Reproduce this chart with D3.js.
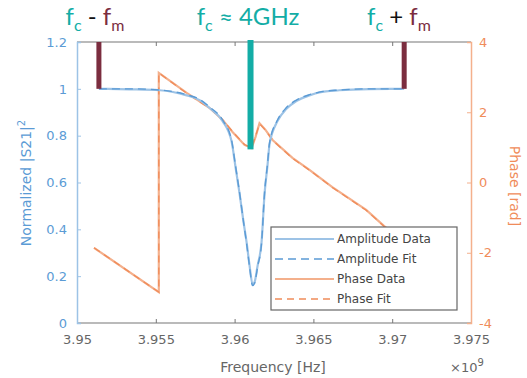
<!DOCTYPE html>
<html>
<head>
<meta charset="utf-8">
<script src="https://cdn.jsdelivr.net/npm/d3@7"></script>
<style>
  html, body { margin: 0; padding: 0; background: #fff; }
  svg { display: block; }
</style>
</head>
<body>
<svg id="chart" width="527" height="378"></svg>
<script>
// ---------- data (frequency in GHz, shown with ×10^9 multiplier) ----------
const ampFreq = [3.95139, 3.95335, 3.95525, 3.95696, 3.95778, 3.95842, 3.95924, 3.95981, 3.96006, 3.96032,
                 3.96057, 3.96076, 3.96095, 3.96114, 3.96127, 3.96146, 3.96171, 3.96190, 3.96209, 3.96222,
                 3.96272, 3.96329, 3.96392, 3.96475, 3.96538, 3.96665, 3.96854, 3.97076];
const ampFit  = [1.0, 1.0, 0.995, 0.975, 0.955, 0.922, 0.867, 0.78, 0.67, 0.555,
                 0.43, 0.34, 0.24, 0.16, 0.17, 0.24, 0.34, 0.555, 0.68, 0.77,
                 0.867, 0.92, 0.952, 0.975, 0.986, 0.995, 1.0, 1.0];
const ampData = [1.0, 0.998, 0.994, 0.972, 0.952, 0.918, 0.862, 0.775, 0.665, 0.55,
                 0.43, 0.345, 0.245, 0.165, 0.175, 0.245, 0.345, 0.55, 0.675, 0.765,
                 0.862, 0.915, 0.948, 0.972, 0.985, 0.994, 0.999, 1.0];

const phaseFreq = [3.95108, 3.95519, 3.95519, 3.95696, 3.95842, 3.95924, 3.95987, 3.96063, 3.96108, 3.96133,
                   3.96158, 3.96196, 3.96241, 3.96367, 3.96475, 3.96620, 3.96835, 3.96949, 3.97076];
const phaseData = [-1.86, -3.12, 3.12, 2.55, 2.12, 1.78, 1.44, 1.07, 0.98, 1.30,
                   1.69, 1.50, 1.21, 0.70, 0.36, -0.13, -0.78, -1.24, -1.68];
const phaseFit  = [-1.86, -3.12, 3.12, 2.54, 2.11, 1.79, 1.45, 1.08, 0.99, 1.32,
                   1.67, 1.49, 1.20, 0.69, 0.35, -0.14, -0.79, -1.25, -1.69];

const xTicks = [3.95, 3.955, 3.96, 3.965, 3.97, 3.975];
const xTickLabels = ["3.95", "3.955", "3.96", "3.965", "3.97", "3.975"];
const yLeftTicks = [0, 0.2, 0.4, 0.6, 0.8, 1, 1.2];
const yLeftLabels = ["0", "0.2", "0.4", "0.6", "0.8", "1", "1.2"];
const yRightTicks = [-4, -2, 0, 2, 4];
const yRightLabels = ["-4", "-2", "0", "2", "4"];
const legendLabels = ["Amplitude Data", "Amplitude Fit", "Phase Data", "Phase Fit"];

// annotation frequencies (carrier and sidebands)
const fMinus = 3.95139, fCenter = 3.96101, fPlus = 3.97076;

// ---------- layout ----------
const svg = d3.select("#chart");
const L = 77, R = 471, T = 42, B = 323;
const blue = "#5B9BD5", blueLight = "#9DC3E6", orange = "#F08C5A", orangeLight = "#F4B08C";
const grey = "#666", darkRed = "#7B2D3F", teal = "#13ADA6";

const x = d3.scaleLinear().domain([3.95, 3.975]).range([L, R]);
const yL = d3.scaleLinear().domain([0, 1.2]).range([B, T]);
const yR = d3.scaleLinear().domain([-4, 4]).range([B, T]);

const tickFont = "DejaVu Sans, Verdana, sans-serif";

// box top and bottom
svg.append("line").attr("x1", L).attr("x2", R).attr("y1", T).attr("y2", T).attr("stroke", "#777").attr("stroke-width", 1.2);
svg.append("line").attr("x1", L).attr("x2", R).attr("y1", B).attr("y2", B).attr("stroke", "#777").attr("stroke-width", 1.2);

// bottom axis (ticks inward)
const xAxis = d3.axisBottom(x).tickValues(xTicks).tickSize(-4).tickFormat((d, i) => xTickLabels[i]).tickPadding(12);
const gx = svg.append("g").attr("transform", `translate(0,${B})`).call(xAxis);
gx.select(".domain").remove();
gx.selectAll(".tick line").attr("stroke", "#777");
gx.selectAll(".tick text").attr("fill", grey).attr("font-family", tickFont).attr("font-size", 13);

// top ticks
const xTop = d3.axisTop(x).tickValues(xTicks).tickSize(-4).tickFormat("");
const gxt = svg.append("g").attr("transform", `translate(0,${T})`).call(xTop);
gxt.select(".domain").remove();
gxt.selectAll(".tick line").attr("stroke", "#777");

// left axis
const yAxisL = d3.axisLeft(yL).tickValues(yLeftTicks).tickSize(-4).tickFormat((d, i) => yLeftLabels[i]).tickPadding(10);
const gyl = svg.append("g").attr("transform", `translate(${L},0)`).call(yAxisL);
gyl.select(".domain").attr("stroke", blueLight).attr("stroke-width", 1.5);
gyl.selectAll(".tick line").attr("stroke", blueLight);
gyl.selectAll(".tick text").attr("fill", blue).attr("font-family", tickFont).attr("font-size", 13);

// right axis
const yAxisR = d3.axisRight(yR).tickValues(yRightTicks).tickSize(-4).tickFormat((d, i) => yRightLabels[i]).tickPadding(8);
const gyr = svg.append("g").attr("transform", `translate(${R},0)`).call(yAxisR);
gyr.select(".domain").attr("stroke", orangeLight).attr("stroke-width", 1.5);
gyr.selectAll(".tick line").attr("stroke", orangeLight);
gyr.selectAll(".tick text").attr("fill", orange).attr("font-family", tickFont).attr("font-size", 13);

// axis titles
svg.append("text").attr("x", 273).attr("y", 372).attr("text-anchor", "middle")
  .attr("font-family", tickFont).attr("font-size", 14).attr("fill", grey).text("Frequency [Hz]");
const mult = svg.append("text").attr("x", 450).attr("y", 372).attr("font-family", tickFont).attr("font-size", 13).attr("fill", grey);
mult.append("tspan").text("×10");
mult.append("tspan").attr("dy", -6).attr("font-size", 10).text("9");

const ylab = svg.append("text").attr("transform", "translate(31,183) rotate(-90)").attr("text-anchor", "middle")
  .attr("font-family", tickFont).attr("font-size", 14).attr("fill", blue);
ylab.append("tspan").text("Normalized |S21|");
ylab.append("tspan").attr("dy", -6).attr("font-size", 10).text("2");

svg.append("text").attr("transform", "translate(510,186) rotate(90)").attr("text-anchor", "middle")
  .attr("font-family", tickFont).attr("font-size", 14).attr("fill", orange).text("Phase [rad]");

// ---------- curves ----------
const ampPts = (vals) => ampFreq.map((f, i) => [f, vals[i]]);
const phPts = (vals) => phaseFreq.map((f, i) => [f, vals[i]]);
const lineAmp = d3.line().x(d => x(d[0])).y(d => yL(d[1])).curve(d3.curveMonotoneX);
const linePh = d3.line().x(d => x(d[0])).y(d => yR(d[1]));

svg.append("path").attr("d", linePh(phPts(phaseData))).attr("fill", "none").attr("stroke", orangeLight).attr("stroke-width", 2.2);
svg.append("path").attr("d", linePh(phPts(phaseFit))).attr("fill", "none").attr("stroke", orange).attr("stroke-width", 1.3).attr("stroke-dasharray", "7,5");
svg.append("path").attr("d", lineAmp(ampPts(ampData))).attr("fill", "none").attr("stroke", blueLight).attr("stroke-width", 2.2);
svg.append("path").attr("d", lineAmp(ampPts(ampFit))).attr("fill", "none").attr("stroke", blue).attr("stroke-width", 1.4).attr("stroke-dasharray", "8,5");

// ---------- legend ----------
const lg = svg.append("g");
lg.append("rect").attr("x", 271).attr("y", 227).attr("width", 186).attr("height", 83)
  .attr("fill", "#fff").attr("stroke", "#666").attr("stroke-width", 1.2);
const lstyles = [
  { c: blueLight, w: 2.2, d: null },
  { c: blue, w: 1.4, d: "8,5" },
  { c: orangeLight, w: 2.2, d: null },
  { c: orange, w: 1.3, d: "7,5" }
];
legendLabels.forEach((lab, i) => {
  const yy = 239 + i * 20;
  lg.append("line").attr("x1", 275).attr("x2", 334).attr("y1", yy).attr("y2", yy)
    .attr("stroke", lstyles[i].c).attr("stroke-width", lstyles[i].w).attr("stroke-dasharray", lstyles[i].d);
  lg.append("text").attr("x", 337).attr("y", yy + 4).attr("font-family", tickFont).attr("font-size", 12)
    .attr("fill", "#444").text(lab);
});

// ---------- annotations ----------
svg.append("rect").attr("x", x(fMinus) - 2.5).attr("y", T).attr("width", 5).attr("height", yL(1) - T).attr("fill", darkRed);
svg.append("rect").attr("x", x(fPlus) - 2.5).attr("y", T).attr("width", 5).attr("height", yL(1) - T).attr("fill", darkRed);
svg.append("rect").attr("x", x(fCenter) - 3).attr("y", T - 2).attr("width", 6).attr("height", yR(1.0) - T + 4).attr("fill", teal);

const annFont = "Lato, 'Open Sans', sans-serif";
function ann(cx, parts) {
  const t = svg.append("text").attr("x", cx).attr("y", 25).attr("text-anchor", "middle")
    .attr("font-family", annFont).attr("font-size", 24);
  parts.forEach(p => {
    const s = t.append("tspan").attr("fill", p.c).text(p.t);
    if (p.sub) s.attr("font-size", 16).attr("dy", 6);
    if (p.up) s.attr("dy", -6);
  });
}
ann(95, [{ t: "f", c: teal }, { t: "c", c: teal, sub: true }, { t: " - ", c: "#111", up: true }, { t: "f", c: darkRed }, { t: "m", c: darkRed, sub: true }]);
ann(248, [{ t: "f", c: teal }, { t: "c", c: teal, sub: true }, { t: " ≈ 4GHz", c: teal, up: true }]);
ann(399, [{ t: "f", c: teal }, { t: "c", c: teal, sub: true }, { t: " + ", c: "#111", up: true }, { t: "f", c: darkRed }, { t: "m", c: darkRed, sub: true }]);
</script>
</body>
</html>
